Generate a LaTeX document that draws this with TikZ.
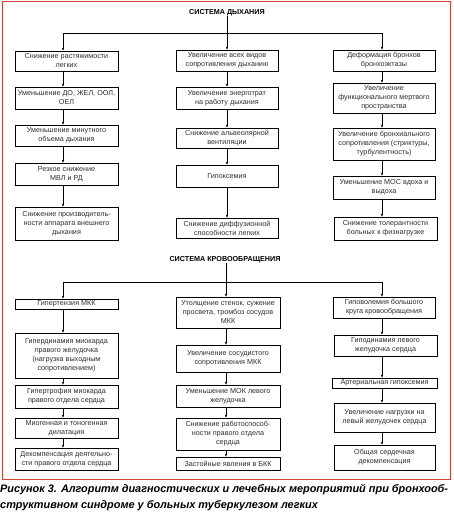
\documentclass[tikz,border=0pt]{standalone}
\usepackage{fontspec}
\setmainfont{Liberation Sans}
\usetikzlibrary{arrows.meta}
\definecolor{framered}{RGB}{208,68,48}
\definecolor{txt}{RGB}{45,45,45}
\newcommand\flowbox[6]{%
  \pgfmathsetmacro\fbw{#4-#2}\pgfmathsetmacro\fbh{#5-#3}%
  \node[boxst, minimum width=\fbw pt, minimum height=\fbh pt] (#1) at ({(#2+#4)/2},{(#3+#5)/2}) {#6};}
\begin{document}
\begin{tikzpicture}[x=1pt,y=-1pt,
  boxst/.style={draw=black, line width=0.75pt, inner xsep=0.5pt, inner ysep=0pt, align=center,
    text=txt, font=\fontsize{7.2}{9}\selectfont},
  titlest/.style={inner sep=0pt, font=\fontsize{7.2}{8}\selectfont\bfseries},
  conn/.style={line width=0.75pt},
  arr/.style={line width=0.75pt, -{Stealth[length=3pt,width=2.4pt]}}]
\useasboundingbox (0,0) rectangle (453,517);
\draw[framered, line width=1pt] (2,1) rectangle (450,479);
% ---------- system 1
\node[titlest] (T1) at (227,13) {СИСТЕМА ДЫХАНИЯ};
\coordinate (hl) at (63,33);
\coordinate (hr) at (382,33);
\coordinate (cl) at (63,0);
\coordinate (cm) at (227,0);
\coordinate (cr) at (382,0);
\flowbox{L1}{15}{51}{118}{71}{Снижение растяжимости\\легких}
\flowbox{L2}{15}{87}{118}{109}{Уменьшение ДО, ЖЕЛ, ООЛ,\\ОЕЛ}
\flowbox{L3}{15}{125}{118}{146}{Уменьшение минутного\\объема дыхания}
\flowbox{L4}{15}{163}{118}{185}{Резкое снижение\\МВЛ и РД}
\flowbox{L5}{15}{207}{118}{240}{Снижение производитель-\\ности аппарата внешнего\\дыхания}
\flowbox{M1}{176}{50}{278}{71}{Увеличение всех видов\\сопротивления дыханию}
\flowbox{M2}{176}{87}{278}{109}{Увеличение энерготрат\\на работу дыхания}
\flowbox{M3}{176}{128}{278}{148}{Снижение альвеолярной\\вентиляции}
\flowbox{M4}{176}{165}{278}{187}{Гипоксемия}
\flowbox{M5}{176}{218}{278}{238}{Снижение диффузионной\\способности легких}
\flowbox{R1}{333}{50}{435}{71}{Деформация бронхов\\бронхоэктазы}
\flowbox{R2}{333}{83}{435}{113}{Увеличение\\функционального мертвого\\пространства}
\flowbox{R3}{333}{128}{435}{160}{Увеличение бронхиального\\сопротивления (стриктуры,\\турбулентность)}
\flowbox{R4}{333}{176}{435}{199}{Уменьшение МОС вдоха и\\выдоха}
\flowbox{R5}{334}{217}{437}{240}{Снижение толерантности\\больных к физнагрузке}
\draw[conn] (hl) -- (hr);
\draw[arr] (T1) -- (M1);
\draw[arr] (hl) -- (L1.north -| hl);
\draw[arr] (hr) -- (R1.north -| hr);
\foreach \a/\b in {L1/L2,L2/L3,L3/L4,L4/L5}{\draw[arr] (\a.south -| cl) -- (\b.north -| cl);}
\foreach \a/\b in {M1/M2,M2/M3,M3/M4,M4/M5}{\draw[arr] (\a.south -| cm) -- (\b.north -| cm);}
\foreach \a/\b in {R1/R2,R2/R3,R3/R4,R4/R5}{\draw[arr] (\a.south -| cr) -- (\b.north -| cr);}
% ---------- system 2
\node[titlest] (T2) at (225,260) {СИСТЕМА КРОВООБРАЩЕНИЯ};
\coordinate (gl) at (63,282);
\coordinate (gr) at (382,282);
\coordinate (dm) at (226,0);
\flowbox{A1}{15}{299}{118}{309}{Гипертензия МКК}
\flowbox{A2}{15}{333}{118}{378}{Гипердинамия миокарда\\правого желудочка\\(нагрузка выходным\\сопротивлением)}
\flowbox{A3}{15}{385}{118}{408}{Гипертрофия миокарда\\правого отдела сердца}
\flowbox{A4}{15}{418}{118}{438}{Миогенная и тоногенная\\дилатация}
\flowbox{A5}{15}{448}{118}{470}{Декомпенсация деятельно-\\сти правого отдела сердца}
\flowbox{B1}{176}{297}{280}{328}{Утолщение стенок, сужение\\просвета, тромбоз сосудов\\МКК}
\flowbox{B2}{176}{345}{280}{372}{Увеличение сосудистого\\сопротивления МКК}
\flowbox{B3}{176}{385}{280}{407}{Уменьшение МОК левого\\желудочка}
\flowbox{B4}{176}{418}{280}{450}{Снижение работоспособ-\\ности правого отдела\\сердца}
\flowbox{B5}{176}{457}{280}{470}{Застойные явления в БКК}
\flowbox{C1}{333}{297}{435}{318}{Гиповолемия большого\\круга кровообращения}
\flowbox{C2}{334}{335}{437}{356}{Гиподинамия левого\\желудочка сердца}
\flowbox{C3}{332}{378}{437}{388}{Артериальная гипоксемия}
\flowbox{C4}{334}{403}{435}{432}{Увеличение нагрузки на\\левый желудочек сердца}
\flowbox{C5}{334}{445}{435}{470}{Общая сердечная\\декомпенсация}
\draw[conn] (gl) -- (gr);
\draw[arr] (T2.south -| dm) -- (B1.north -| dm);
\draw[arr] (gl) -- (A1.north -| gl);
\draw[arr] (gr) -- (C1.north -| gr);
\foreach \a/\b in {A1/A2,A2/A3,A3/A4,A4/A5}{\draw[arr] (\a.south -| cl) -- (\b.north -| cl);}
\foreach \a/\b in {B1/B2,B2/B3,B3/B4,B4/B5}{\draw[arr] (\a.south -| dm) -- (\b.north -| dm);}
\foreach \a/\b in {C1/C2,C2/C3,C3/C4,C4/C5}{\draw[arr] (\a.south -| cr) -- (\b.north -| cr);}
% ---------- caption
\node[anchor=north west, inner sep=0pt, align=left, font=\fontsize{10.9}{16}\selectfont\bfseries\itshape] (cap) at (0,484)
  {Рисунок 3. Алгоритм диагностических и лечебных мероприятий при бронхооб-\\структивном синдроме у больных туберкулезом легких};
\end{tikzpicture}
\end{document}
